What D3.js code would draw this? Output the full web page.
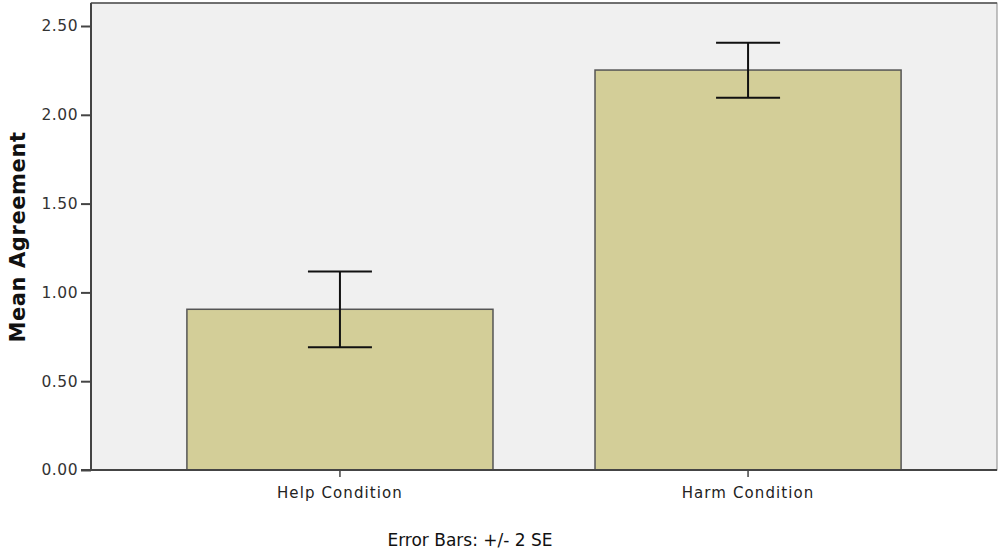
<!DOCTYPE html>
<html><head><meta charset="utf-8">
<script src="https://cdn.jsdelivr.net/npm/d3@7"></script>
<style>body{margin:0;background:#fff;} text{font-family:"DejaVu Sans",sans-serif;}</style>
</head><body>
<svg id="c" width="998" height="550"></svg>
<script>
const categories = ["Help Condition", "Harm Condition"];
const means = [0.905, 2.252];
const errLow = [0.691, 2.096];
const errHigh = [1.117, 2.406];
const yTicks = [0, 0.5, 1.0, 1.5, 2.0, 2.5];

const svg = d3.select("#c");
const L = 91, R = 997, T = 3, B = 470;
const y = d3.scaleLinear().domain([0, 2.5]).range([B, 26]);
const x = d3.scaleBand().domain(categories).range([L, R]).paddingInner(0.25).paddingOuter(0.235);

svg.append("rect").attr("x", L).attr("y", T).attr("width", R - L).attr("height", B - T)
  .attr("fill", "#f0f0f0").attr("stroke", "#888").attr("stroke-width", 1);
svg.append("line").attr("x1", L).attr("x2", R).attr("y1", T).attr("y2", T)
  .attr("stroke", "#555").attr("stroke-width", 1.5);

svg.selectAll(".bar").data(categories).enter().append("rect")
  .attr("x", d => x(d)).attr("width", x.bandwidth())
  .attr("y", (d, i) => y(means[i])).attr("height", (d, i) => y(0) - y(means[i]))
  .attr("fill", "#d3ce98").attr("stroke", "#555").attr("stroke-width", 1.5);

const cap = 32;
categories.forEach((c, i) => {
  const cx = x(c) + x.bandwidth() / 2;
  const g = svg.append("g").attr("stroke", "#111").attr("stroke-width", 2);
  g.append("line").attr("x1", cx).attr("x2", cx).attr("y1", y(errLow[i])).attr("y2", y(errHigh[i]));
  g.append("line").attr("x1", cx - cap).attr("x2", cx + cap).attr("y1", y(errLow[i])).attr("y2", y(errLow[i]));
  g.append("line").attr("x1", cx - cap).attr("x2", cx + cap).attr("y1", y(errHigh[i])).attr("y2", y(errHigh[i]));
});

const yAxis = svg.append("g").attr("transform", `translate(${L},0)`)
  .call(d3.axisLeft(y).tickValues(yTicks).tickFormat(d3.format(".2f")).tickSize(10).tickPadding(3));
yAxis.select(".domain").attr("stroke", "#444").attr("stroke-width", 2).attr("d", `M0,${T}V${B}`);
yAxis.selectAll(".tick line").attr("stroke", "#444").attr("stroke-width", 2);
yAxis.selectAll("text").attr("font-size", 15.5).attr("fill", "#333").attr("font-family", "DejaVu Sans, sans-serif")
  .attr("letter-spacing", 0.5);

const xAxis = svg.append("g").attr("transform", `translate(0,${B})`)
  .call(d3.axisBottom(x).tickSize(7).tickPadding(10));
xAxis.select(".domain").attr("stroke", "#444").attr("stroke-width", 2).attr("d", `M${L - 10},0H${R}`);
xAxis.selectAll(".tick line").attr("stroke", "#444").attr("stroke-width", 1.5);
xAxis.selectAll("text").attr("font-size", 15).attr("fill", "#222").attr("font-family", "DejaVu Sans, sans-serif")
  .attr("letter-spacing", 1.1);

svg.append("text").attr("transform", "translate(25,237) rotate(-90)")
  .attr("text-anchor", "middle").attr("font-size", 21).attr("font-weight", "bold").attr("fill", "#111")
  .attr("letter-spacing", 0.6)
  .text("Mean Agreement");

svg.append("text").attr("x", 470).attr("y", 546).attr("text-anchor", "middle")
  .attr("font-size", 17).attr("fill", "#111").text("Error Bars: +/- 2 SE");
</script>
</body></html>
